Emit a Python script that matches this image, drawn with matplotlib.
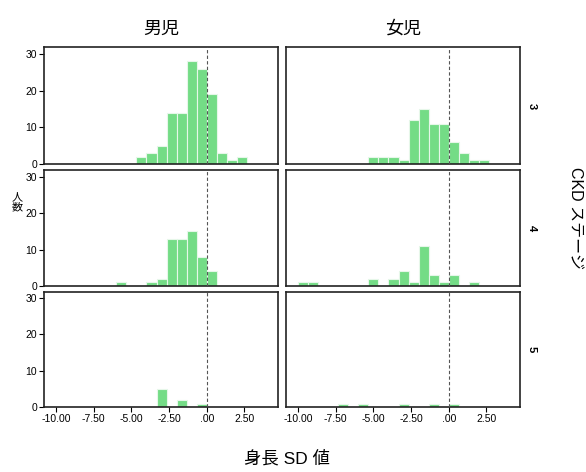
import matplotlib
matplotlib.use("Agg")
import matplotlib.pyplot as plt
import numpy as np

plt.rcParams["font.family"] = ["Liberation Sans", "Noto Sans CJK JP", "DejaVu Sans"]

# ── Data: histogram bins of height SD score (bin width 2/3 SD) ───────
bin_width = 2 / 3

# bin index k covers [k*w, (k+1)*w)
boys_3_bins = [-7, -6, -5, -4, -3, -2, -1, 0, 1, 2, 3]
boys_3_counts = [2, 3, 5, 14, 14, 28, 26, 19, 3, 1, 2]
girls_3_bins = [-8, -7, -6, -5, -4, -3, -2, -1, 0, 1, 2, 3]
girls_3_counts = [2, 2, 2, 1, 12, 15, 11, 11, 6, 3, 1, 1]

boys_4_bins = [-9, -6, -5, -4, -3, -2, -1, 0]
boys_4_counts = [1, 1, 2, 13, 13, 15, 8, 4]
girls_4_bins = [-15, -14, -8, -6, -5, -4, -3, -2, -1, 0, 2]
girls_4_counts = [1, 1, 2, 2, 4, 1, 11, 3, 1, 3, 1]

boys_5_bins = [-5, -3, -1]
boys_5_counts = [5, 2, 1]
girls_5_bins = [-11, -9, -5, -2, 0]
girls_5_counts = [1, 1, 1, 1, 1]

col_titles = ["男児", "女児"]
row_labels = ["3", "4", "5"]
xticks = [-10.0, -7.5, -5.0, -2.5, 0.0, 2.5]
xtick_labels = ["-10.00", "-7.50", "-5.00", "-2.50", ".00", "2.50"]
yticks = [0, 10, 20, 30]

panels = [
    [(boys_3_bins, boys_3_counts), (girls_3_bins, girls_3_counts)],
    [(boys_4_bins, boys_4_counts), (girls_4_bins, girls_4_counts)],
    [(boys_5_bins, boys_5_counts), (girls_5_bins, girls_5_counts)],
]

# ── Figure ───────────────────────────────────────────────────────────
W, H = 586, 472
fig = plt.figure(figsize=(W / 100, H / 100), dpi=100)

col_x = [44, 286]
col_w = 234
row_y = [(47.5, 164), (170, 286), (291.5, 407.3)]

bar_color = "#74DC86"
edge_color = "#E6F7E9"

for r, (top, bottom) in enumerate(row_y):
    for c in range(2):
        ax = fig.add_axes([col_x[c] / W, 1 - bottom / H, col_w / W, (bottom - top) / H])
        bins, counts = panels[r][c]
        left = np.array(bins) * bin_width
        ax.bar(left, counts, width=bin_width, align="edge",
               color=bar_color, edgecolor=edge_color, linewidth=0.8, zorder=2)
        ax.axvline(0, color="#555555", linestyle=(0, (3, 2)), linewidth=0.8, zorder=3)
        ax.set_xlim(-10.8, 4.73)
        ax.set_ylim(0, 31.8)
        for s in ax.spines.values():
            s.set_linewidth(1.2)
            s.set_color("#222222")
        ax.tick_params(direction="out", length=3.5, width=0.8, labelsize=7.5, pad=1.5)
        if c == 0:
            ax.set_yticks(yticks)
        else:
            ax.set_yticks([])
        if r == 2:
            ax.set_xticks(xticks)
            ax.set_xticklabels(xtick_labels)
        else:
            ax.set_xticks([])
        if r == 0:
            ax.set_title(col_titles[c], fontsize=13, pad=10)
        if c == 1:
            ax.text(1.05, 0.5, row_labels[r], transform=ax.transAxes, rotation=270,
                    ha="center", va="center", fontsize=8, fontweight="bold")

fig.text(575 / W, 1 - 218 / H, "CKD ステージ", rotation=270,
         ha="center", va="center", fontsize=11.5)
fig.text(17 / W, 1 - 202 / H, "人\n数", ha="center", va="center",
         fontsize=8, linespacing=1.0)
fig.text(287 / W, 1 - 458 / H, "身長 SD 値", ha="center", va="center", fontsize=12.5)

fig.savefig("out.png", dpi=100)
